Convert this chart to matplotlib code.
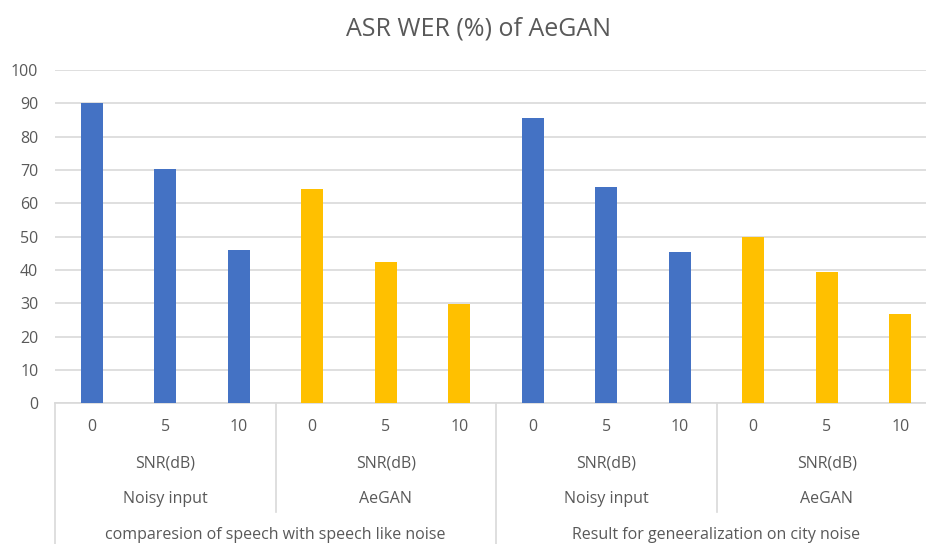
import matplotlib
matplotlib.use("Agg")
import matplotlib.pyplot as plt
import matplotlib.transforms as mtransforms

# data
snr_ticks = ["0", "5", "10"] * 4
groups = ["Noisy input", "AeGAN", "Noisy input", "AeGAN"]
experiments = ["comparesion of speech with speech like noise",
               "Result for geneeralization on city noise"]
wer = [90.0, 70.3, 46.1, 64.4, 42.5, 29.8, 85.6, 64.8, 45.5, 49.8, 39.3, 26.8]
bar_colors = ["#4472C4"] * 3 + ["#FFC000"] * 3 + ["#4472C4"] * 3 + ["#FFC000"] * 3

plt.rcParams["font.family"] = ["Open Sans", "DejaVu Sans"]
txt = "#595959"
grid = "#D9D9D9"
fs = 11.5

W, H = 926, 544
fig = plt.figure(figsize=(W / 100, H / 100), dpi=100)
# axes in pixel units: left 55, right ~937 (cropped), y0 at 403.3, y100 at 70
ax = fig.add_axes([55 / W, (H - 403.3) / H, 882 / W, 333.3 / H])

x = list(range(len(wer)))
ax.bar(x, wer, width=0.30, color=bar_colors, zorder=3)
ax.set_xlim(-0.5, len(wer) - 0.5)
ax.set_ylim(0, 100)
ax.set_yticks(range(0, 101, 10))
ax.yaxis.grid(True, color=grid, linewidth=1.2, zorder=0)
ax.tick_params(axis="y", length=0, pad=12, labelsize=fs, labelcolor=txt)
ax.set_xticks([])
for s in ["top", "right", "left"]:
    ax.spines[s].set_visible(False)
ax.spines["bottom"].set_color(grid)
ax.spines["bottom"].set_linewidth(1.2)

fig.text(478 / W, 1 - 29 / H, "ASR WER (%) of AeGAN", ha="center", va="center",
         fontsize=18, color=txt)

trans = mtransforms.blended_transform_factory(ax.transData, fig.transFigure)


def fy(py):
    return 1 - py / H


# level 1: SNR values
for i, t in enumerate(snr_ticks):
    fig.text(i, fy(427), t, transform=trans, ha="center", va="center",
             fontsize=fs, color=txt)
# level 2 and 3: SNR(dB) and method
for g, name in enumerate(groups):
    cx = 3 * g + 1
    fig.text(cx, fy(463), "SNR(dB)", transform=trans, ha="center",
             va="center", fontsize=fs, color=txt)
    fig.text(cx, fy(499), name, transform=trans, ha="center",
             va="center", fontsize=fs, color=txt)
# level 4: experiment
for e, name in enumerate(experiments):
    cx = 6 * e + 2.5
    fig.text(cx, fy(535), name, transform=trans, ha="center",
             va="center", fontsize=fs, color=txt)

# separators
for xs, bottom in [(-0.5, 544), (2.5, 512), (5.5, 544), (8.5, 512)]:
    ax.plot([xs, xs], [fy(403.3), fy(bottom)], transform=trans, color=grid,
            linewidth=1.2, clip_on=False)

fig.savefig("out.png", dpi=100)
